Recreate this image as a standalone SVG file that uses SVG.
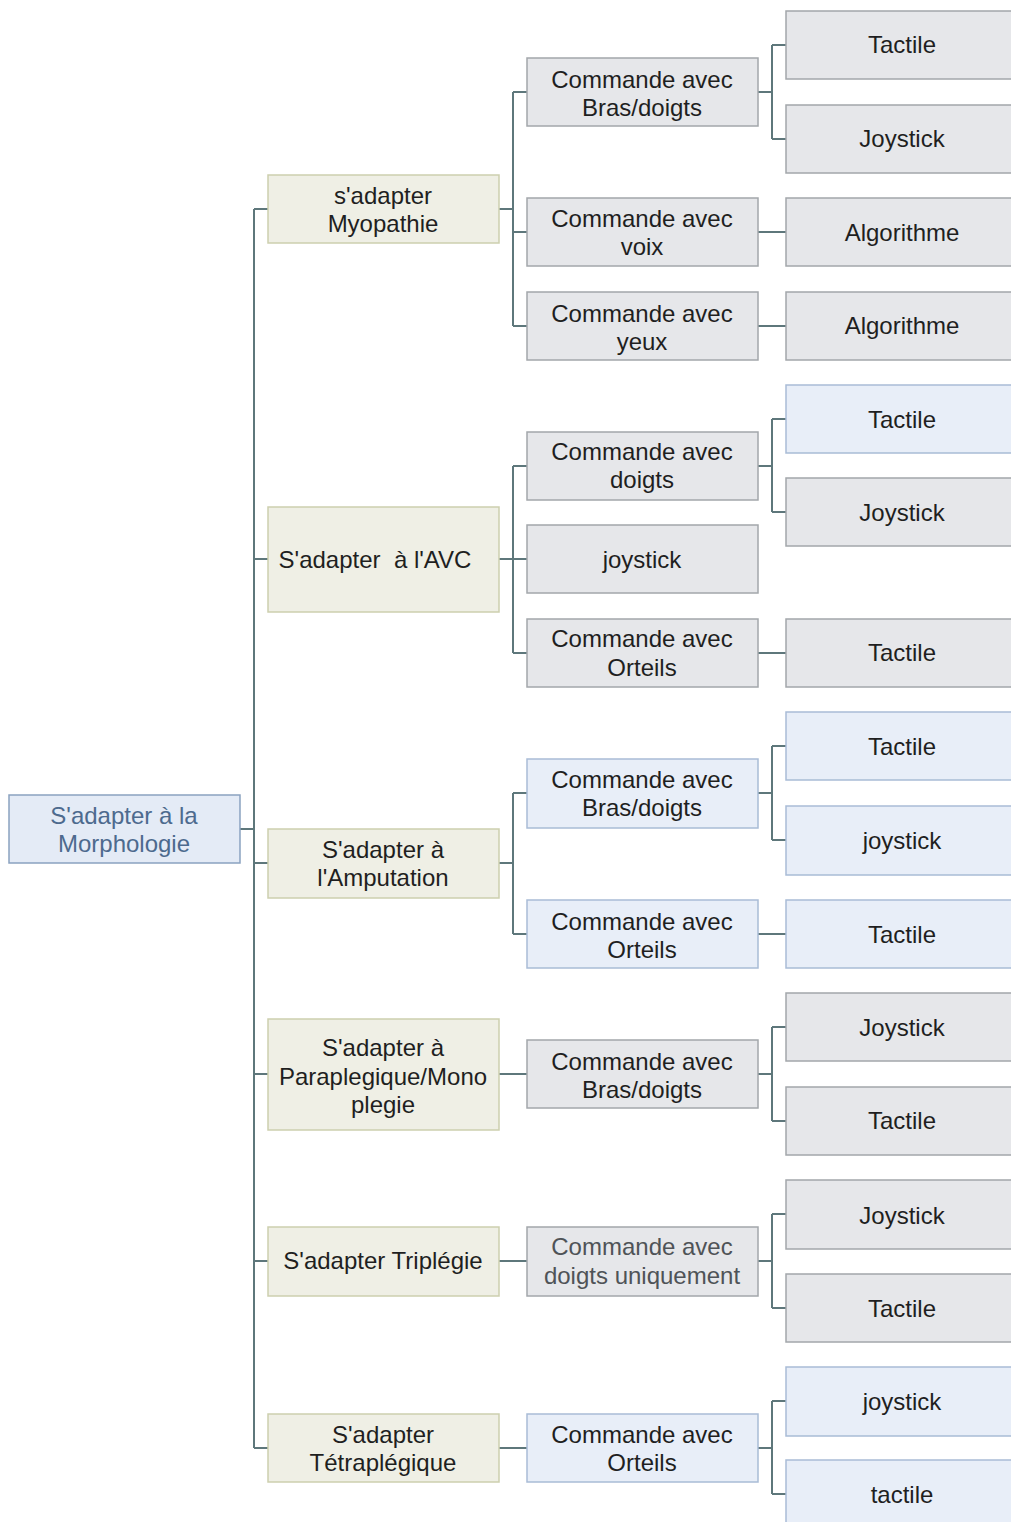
<svg xmlns="http://www.w3.org/2000/svg" width="1011" height="1522" viewBox="0 0 1011 1522">
  <style>
    text { font-family: "Liberation Sans", Arial, sans-serif; font-size: 24px; text-anchor: middle; fill: #1f1f1f; }
    .root rect { fill: #e4ebf6; stroke: #8aa2c0; stroke-width: 1.5; }
    .root text { fill: #4d6a8e; }
    .l1 rect { fill: #efefe5; stroke: #cdcfae; stroke-width: 1.5; }
    .grey rect { fill: #e6e7ea; stroke: #a3a7ab; stroke-width: 1.5; }
    .blue rect { fill: #e8eef8; stroke: #a9bcd6; stroke-width: 1.5; }
    .dim text { fill: #4f5357; }
    #connectors path { fill: none; stroke: #5e777b; stroke-width: 2; }
  </style>

  <!-- connectors -->
  <g id="connectors">
    <!-- root to level 1 -->
    <path d="M240 829 H254 M254 209 V1448 M254 209 H268 M254 559 H268 M254 863 H268 M254 1074 H268 M254 1261 H268 M254 1448 H268"/>
    <!-- level 1 to level 2 -->
    <path d="M499 209 H513 M513 92 V326 M513 92 H527 M513 232 H527 M513 326 H527"/>
    <path d="M499 559 H513 M513 466 V653 M513 466 H527 M513 559 H527 M513 653 H527"/>
    <path d="M499 863 H513 M513 793 V934 M513 793 H527 M513 934 H527"/>
    <path d="M499 1074 H527"/>
    <path d="M499 1261 H527"/>
    <path d="M499 1448 H527"/>
    <!-- level 2 to level 3 -->
    <path d="M758 92 H772 M772 45 V139 M772 45 H786 M772 139 H786"/>
    <path d="M758 232 H786"/>
    <path d="M758 326 H786"/>
    <path d="M758 466 H772 M772 419 V512 M772 419 H786 M772 512 H786"/>
    <path d="M758 653 H786"/>
    <path d="M758 793 H772 M772 746 V840 M772 746 H786 M772 840 H786"/>
    <path d="M758 934 H786"/>
    <path d="M758 1074 H772 M772 1027 V1121 M772 1027 H786 M772 1121 H786"/>
    <path d="M758 1261 H772 M772 1214 V1308 M772 1214 H786 M772 1308 H786"/>
    <path d="M758 1448 H772 M772 1401 V1494 M772 1401 H786 M772 1494 H786"/>
  </g>

  <!-- root -->
  <g id="root" class="root">
    <rect x="9" y="795" width="231" height="68"/>
    <text x="124" y="824">S'adapter à la</text>
    <text x="124" y="852">Morphologie</text>
  </g>

  <!-- level 1 -->
  <g id="myopathie" class="l1">
    <rect x="268" y="175" width="231" height="68"/>
    <text x="383" y="204">s'adapter</text>
    <text x="383" y="232">Myopathie</text>
  </g>
  <g id="avc" class="l1">
    <rect x="268" y="507" width="231" height="105"/>
    <text x="375" y="568" xml:space="preserve">S'adapter  à l'AVC</text>
  </g>
  <g id="amputation" class="l1">
    <rect x="268" y="829" width="231" height="69"/>
    <text x="383" y="858">S'adapter à</text>
    <text x="383" y="886">l'Amputation</text>
  </g>
  <g id="paraplegie" class="l1">
    <rect x="268" y="1019" width="231" height="111"/>
    <text x="383" y="1056">S'adapter à</text>
    <text x="383" y="1085">Paraplegique/Mono</text>
    <text x="383" y="1113">plegie</text>
  </g>
  <g id="triplegie" class="l1">
    <rect x="268" y="1227" width="231" height="69"/>
    <text x="383" y="1269">S'adapter Triplégie</text>
  </g>
  <g id="tetraplegie" class="l1">
    <rect x="268" y="1414" width="231" height="68"/>
    <text x="383" y="1443">S'adapter</text>
    <text x="383" y="1471">Tétraplégique</text>
  </g>

  <!-- level 2 -->
  <g id="m-bras" class="grey">
    <rect x="527" y="58" width="231" height="68"/>
    <text x="642" y="88">Commande avec</text>
    <text x="642" y="116">Bras/doigts</text>
  </g>
  <g id="m-voix" class="grey">
    <rect x="527" y="198" width="231" height="68"/>
    <text x="642" y="227">Commande avec</text>
    <text x="642" y="255">voix</text>
  </g>
  <g id="m-yeux" class="grey">
    <rect x="527" y="292" width="231" height="68"/>
    <text x="642" y="322">Commande avec</text>
    <text x="642" y="350">yeux</text>
  </g>
  <g id="avc-doigts" class="grey">
    <rect x="527" y="432" width="231" height="68"/>
    <text x="642" y="460">Commande avec</text>
    <text x="642" y="488">doigts</text>
  </g>
  <g id="avc-joystick" class="grey">
    <rect x="527" y="525" width="231" height="68"/>
    <text x="642" y="568">joystick</text>
  </g>
  <g id="avc-orteils" class="grey">
    <rect x="527" y="619" width="231" height="68"/>
    <text x="642" y="647">Commande avec</text>
    <text x="642" y="676">Orteils</text>
  </g>
  <g id="amp-bras" class="blue">
    <rect x="527" y="759" width="231" height="69"/>
    <text x="642" y="788">Commande avec</text>
    <text x="642" y="816">Bras/doigts</text>
  </g>
  <g id="amp-orteils" class="blue">
    <rect x="527" y="900" width="231" height="68"/>
    <text x="642" y="930">Commande avec</text>
    <text x="642" y="958">Orteils</text>
  </g>
  <g id="para-bras" class="grey">
    <rect x="527" y="1040" width="231" height="68"/>
    <text x="642" y="1070">Commande avec</text>
    <text x="642" y="1098">Bras/doigts</text>
  </g>
  <g id="tri-doigts" class="grey dim">
    <rect x="527" y="1227" width="231" height="69"/>
    <text x="642" y="1255">Commande avec</text>
    <text x="642" y="1284">doigts uniquement</text>
  </g>
  <g id="tetra-orteils" class="blue">
    <rect x="527" y="1414" width="231" height="68"/>
    <text x="642" y="1443">Commande avec</text>
    <text x="642" y="1471">Orteils</text>
  </g>

  <!-- level 3 -->
  <g id="t1" class="grey"><rect x="786" y="11" width="240" height="68"/><text x="902" y="53">Tactile</text></g>
  <g id="t2" class="grey"><rect x="786" y="105" width="240" height="68"/><text x="902" y="147">Joystick</text></g>
  <g id="t3" class="grey"><rect x="786" y="198" width="240" height="68"/><text x="902" y="241">Algorithme</text></g>
  <g id="t4" class="grey"><rect x="786" y="292" width="240" height="68"/><text x="902" y="334">Algorithme</text></g>
  <g id="t5" class="blue"><rect x="786" y="385" width="240" height="68"/><text x="902" y="428">Tactile</text></g>
  <g id="t6" class="grey"><rect x="786" y="478" width="240" height="68"/><text x="902" y="521">Joystick</text></g>
  <g id="t7" class="grey"><rect x="786" y="619" width="240" height="68"/><text x="902" y="661">Tactile</text></g>
  <g id="t8" class="blue"><rect x="786" y="712" width="240" height="68"/><text x="902" y="755">Tactile</text></g>
  <g id="t9" class="blue"><rect x="786" y="806" width="240" height="69"/><text x="902" y="849">joystick</text></g>
  <g id="t10" class="blue"><rect x="786" y="900" width="240" height="68"/><text x="902" y="943">Tactile</text></g>
  <g id="t11" class="grey"><rect x="786" y="993" width="240" height="68"/><text x="902" y="1036">Joystick</text></g>
  <g id="t12" class="grey"><rect x="786" y="1087" width="240" height="68"/><text x="902" y="1129">Tactile</text></g>
  <g id="t13" class="grey"><rect x="786" y="1180" width="240" height="69"/><text x="902" y="1224">Joystick</text></g>
  <g id="t14" class="grey"><rect x="786" y="1274" width="240" height="68"/><text x="902" y="1317">Tactile</text></g>
  <g id="t15" class="blue"><rect x="786" y="1367" width="240" height="69"/><text x="902" y="1410">joystick</text></g>
  <g id="t16" class="blue"><rect x="786" y="1460" width="240" height="68"/><text x="902" y="1503">tactile</text></g>
</svg>
